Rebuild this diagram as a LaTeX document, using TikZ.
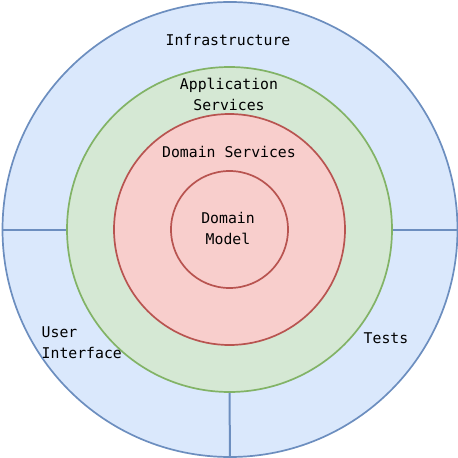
\documentclass[tikz,border=0pt]{standalone}
\usepackage{fontspec}
\setmonofont{DejaVu Sans Mono}
\usepackage{tikz}
\usetikzlibrary{shapes.geometric}
\definecolor{infrafill}{HTML}{DAE8FC}
\definecolor{infraline}{HTML}{6C8EBF}
\definecolor{appfill}{HTML}{D5E8D4}
\definecolor{appline}{HTML}{82B366}
\definecolor{domfill}{HTML}{F8CECC}
\definecolor{domline}{HTML}{B85450}
\tikzstyle{anello} = [circle,inner sep=0pt,line width=1.7pt]
\tikzstyle{etichetta} = [inner sep=0pt,align=center,text=black]
\tikzstyle{divisore} = [line width=2pt,draw=infraline]

\begin{document}
\begin{tikzpicture}[x=1pt,y=-1pt]
\tikzstyle{every node}=[font=\ttfamily\fontsize{14.8}{21}\selectfont]

\useasboundingbox (0,0) rectangle (458,458);

% rings, from outside in
\node (infra) [anello,draw=infraline,fill=infrafill,minimum size=455pt] at (230,229.5) {};
\node (app)   [anello,draw=appline,fill=appfill,minimum size=325pt] at (229.5,229.5) {};
\node (dserv) [anello,draw=domline,fill=domfill,minimum size=231pt] at (229.5,229.5) {};
\node (model) [anello,draw=domline,fill=domfill,minimum size=117pt] at (229.5,229.5) {};

% dividers of the outer ring
\draw[divisore] (infra.west) -- (app.west);
\draw[divisore] (app.east) -- (infra.east);
\draw[divisore] (app.south) -- (infra.south);

% labels
\node (lblinfra) [etichetta] at (228,40) {Infrastructure};
\node (lblapp)   [etichetta] at (229,94.5) {Application\\Services};
\node (lbldserv) [etichetta] at (229,152) {Domain Services};
\node (lblmodel) [etichetta] at (228,228.5) {Domain\\Model};
\node (lblui)    [etichetta,align=left,anchor=west] at (41.5,343) {User\\Interface};
\node (lbltests) [etichetta] at (386,338) {Tests};

\end{tikzpicture}
\end{document}
